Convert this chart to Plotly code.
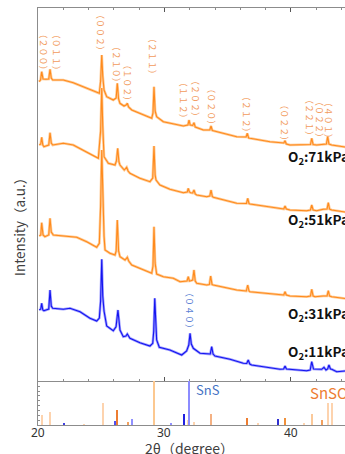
import plotly.graph_objects as go

# ---------------- data ----------------
# O2 : 11 kPa (blue), stacked intensity (a.u.)
tt_11 = [20.10, 20.22, 20.29, 20.38, 20.47, 20.85, 20.95, 21.05, 21.16, 22.00, 22.53, 23.32, 24.11, 24.64,
         24.85, 24.95, 25.04, 25.12, 25.22, 25.43, 25.95, 26.17, 26.32, 26.42, 26.48, 26.74, 26.95, 27.06,
         27.17, 27.27, 28.06, 28.85, 29.07, 29.15, 29.23, 29.31, 29.38, 29.59, 30.43, 31.36, 31.75, 31.92,
         32.02, 32.12, 32.28, 32.81, 33.46, 33.62, 33.73, 33.84, 33.99, 35.18, 36.23, 36.50, 36.62, 36.74,
         36.89, 38.08, 39.13, 39.42, 39.53, 39.64, 39.92, 41.24, 41.52, 41.64, 41.78, 42.03, 42.43, 42.61,
         42.77, 42.90, 43.00, 43.12, 43.22, 43.61, 44.13, 44.30]
int_11 = [71, 72, 77.7, 71, 70.3, 72, 91, 75, 72.7, 71.7, 72.7, 69.3, 62.7, 60,
          63, 80, 121.7, 85, 70, 55, 50.3, 54.3, 71, 55, 51, 44.3, 45, 47,
          44, 42.7, 38.3, 35, 37.7, 50, 82.7, 50, 41, 33.7, 31, 26, 30, 36,
          47.7, 37, 32.7, 27.7, 27, 27, 34.3, 27, 25, 21.7, 17.7, 17.5, 21, 17,
          16, 13.7, 11.7, 12, 15, 12, 11.7, 10.3, 11, 19.3, 12, 11.7, 11.7, 13.7,
          11, 12, 16, 12, 11.7, 9.3, 10.3, 10]

# O2 : 31 kPa
tt_31 = [20.10, 20.22, 20.29, 20.40, 20.55, 20.85, 20.95, 21.05, 21.21, 22.27, 23.06, 23.85, 24.64, 24.85,
         24.95, 25.04, 25.12, 25.22, 25.30, 25.69, 26.09, 26.18, 26.27, 26.37, 26.48, 26.88, 27.06, 27.17,
         27.41, 28.32, 28.99, 29.09, 29.17, 29.26, 29.38, 29.91, 30.70, 31.23, 31.78, 31.88, 31.97, 32.07,
         32.23, 32.33, 32.43, 32.55, 33.34, 33.55, 33.65, 33.76, 33.86, 35.71, 36.47, 36.58, 36.68, 36.76,
         38.34, 39.43, 39.53, 39.63, 39.92, 41.24, 41.54, 41.64, 41.75, 41.90, 42.55, 42.85, 42.95, 43.05,
         43.22, 44.13, 44.30]
int_31 = [145, 146, 158.3, 146, 144.3, 146, 162.7, 149, 146, 145, 143.7, 139.3, 133.7, 137.7,
          175, 231, 190, 145, 131, 127.7, 126, 130, 161, 130, 124.3, 121, 123.7, 120,
          116, 111, 107.7, 115, 154.3, 118, 107, 104.3, 102.7, 99.3, 100, 104.3, 100, 100.3,
          101, 111, 100, 97.7, 96, 96.5, 105, 96.5, 96, 91, 90, 96, 90, 89.3,
          87, 86, 89.3, 86, 85, 84.3, 85, 91.7, 85, 84.3, 85, 85, 90.3, 85,
          84.3, 82.7, 82.5]

# O2 : 51 kPa
tt_51 = [20.10, 20.22, 20.29, 20.38, 20.47, 20.85, 20.95, 21.05, 21.16, 22.00, 22.79, 23.58, 24.37, 24.77,
         24.95, 25.04, 25.12, 25.22, 25.56, 26.09, 26.20, 26.30, 26.40, 26.48, 26.82, 27.01, 27.12, 27.27,
         28.06, 28.85, 29.07, 29.17, 29.26, 29.33, 29.64, 30.43, 31.49, 31.80, 31.88, 31.97, 32.07, 32.23,
         32.33, 32.43, 32.55, 33.34, 33.58, 33.68, 33.78, 33.86, 35.71, 36.48, 36.58, 36.68, 36.76, 38.34,
         39.43, 39.53, 39.63, 39.92, 41.24, 41.54, 41.64, 41.75, 42.03, 42.55, 42.85, 42.95, 43.05, 43.22,
         44.13, 44.30]
int_51 = [236, 237, 243.7, 236, 234.3, 236, 248.3, 238, 236, 237.7, 236, 231, 226, 222.7,
          250, 293, 255, 224.3, 217.7, 216, 220, 232.7, 219, 216, 211, 213.7, 210, 207.7,
          202.7, 199.3, 203, 235, 206, 201, 196, 191.7, 188.3, 189, 192.7, 189, 188.3, 188,
          191, 187, 186, 184.3, 185, 191, 184.5, 183.7, 177.7, 177.5, 182.7, 177.5, 177, 173.7,
          172, 175, 172, 171, 170.3, 171, 176, 171, 170.3, 171.7, 172, 178.3, 172, 171,
          169.3, 169]

# O2 : 71 kPa
tt_71 = [20.08, 20.20, 20.29, 20.40, 20.63, 20.85, 20.95, 21.05, 21.16, 22.00, 22.79, 23.58, 24.37, 24.85,
         24.95, 25.04, 25.12, 25.22, 25.43, 25.95, 26.18, 26.27, 26.37, 26.48, 26.80, 26.96, 27.06, 27.16,
         27.41, 28.32, 28.99, 29.09, 29.17, 29.26, 29.38, 29.91, 30.70, 31.49, 31.85, 31.94, 32.03, 32.23,
         32.33, 32.43, 33.07, 33.58, 33.68, 33.78, 33.86, 35.71, 36.45, 36.55, 36.65, 36.76, 38.34, 39.43,
         39.53, 39.63, 39.92, 41.24, 41.54, 41.64, 41.75, 42.03, 42.55, 42.80, 42.90, 43.00, 43.22, 44.13,
         44.30]
int_71 = [299.3, 301, 309.3, 302, 301.7, 302, 311.7, 303, 301, 301, 298.3, 294.3, 290.3, 287.7,
          300, 326, 305, 291, 284.3, 281, 283, 297.7, 282, 277.7, 275, 276, 277.7, 274,
          271, 266, 262.7, 268, 294.3, 270, 264.3, 259.3, 257, 255, 256, 261, 256, 255.5,
          258.3, 254, 251, 251, 255, 250.5, 250.3, 244.3, 244, 247.7, 243, 242.7, 239.3, 238,
          240.3, 237, 236, 236, 236.5, 242.7, 236.5, 236, 237, 237, 244.3, 237, 236, 234.3,
          234]

# reference patterns (relative intensity, %)
snso4_pos = [20.29, 20.95, 23.60, 25.11, 26.27, 27.14, 29.19, 31.88, 32.33, 33.68, 36.55, 37.40,
             39.55, 41.00, 41.64, 42.43, 42.95, 43.27]
snso4_int = [22.7, 28.9, 1.6, 49.3, 34.1, 7.5, 100, 11.4, 7.5, 24.3, 16.6, 2.3,
             16.6, 2.3, 24.3, 11.4, 49.3, 49.3]
sns_pos = [22.03, 26.06, 27.46, 30.54, 31.54, 31.96, 39.00]
sns_int = [3.9, 9.1, 13.6, 2.3, 24.3, 100, 13.6]

# x tick labels
x_tick_vals = [20, 30, 40]
x_tick_text = ["20", "30", "40"]

# Miller index labels
hkl_text = ["（２００）", "（０１１）", "（００２）", "（２１０）", "（１０２）", "（２１１）", "（１１２）",
            "（２０２）", "（０２０）", "（２１２）", "（０２２）", "（２２１）", "（０２２）", "（４０１）"]
hkl_x = [20.47, 21.48, 24.98, 26.27, 27.06, 29.11, 31.57, 32.49, 33.73, 36.55, 39.47, 41.50, 42.29, 43.03]
hkl_y = [328.5, 328.5, 348, 317, 298.5, 325, 281, 282, 274, 267, 258.5, 263, 261, 261]
sns_hkl_text = "（０４０）"
sns_hkl_x = 32.02
sns_hkl_y = 71

sample_labels = ["O<sub>2</sub>:71kPa", "O<sub>2</sub>:51kPa", "O<sub>2</sub>:31kPa", "O<sub>2</sub>:11kPa"]
sample_label_y = [224, 161, 67, 29]
sample_label_x = 39.57

# ---------------- styles ----------------
ORANGE = "#FF8A1C"
ORANGE_LIGHT = "#FFCB96"
BLUE = "#1414F0"
BLUE_LIGHT = "#A0A0FF"
AXIS = "#8C8C8C"
snso4_colors = ["#FDD3AE", "#FDD3AE", "#FDD3AE", "#FDD3AE", "#ED7D31", "#F2A05E", "#FCC890", "#FDD3AE",
                "#FDD3AE", "#F4B183", "#ED7D31", "#FDD3AE", "#F0903A", "#FDD3AE", "#FBC99A", "#F2A05E",
                "#FDD3AE", "#FDD3AE"]
sns_colors = ["#4040E0", "#5050F0", "#9090FF", "#9090FF", "#2020E0", "#8C8CFF", "#3030D0"]

XR = [20, 44.27]
SPLIT = 0.1055
PLOT_H = 417  # plot area height in px (454 - 8 - 29)

fig = go.Figure()

series = [(tt_71, int_71, ORANGE, ORANGE_LIGHT), (tt_51, int_51, ORANGE, ORANGE_LIGHT),
          (tt_31, int_31, ORANGE, ORANGE_LIGHT), (tt_11, int_11, BLUE, BLUE_LIGHT)]
for tx, iy, c, cl in series:
    fig.add_trace(go.Scatter(x=tx, y=iy, mode="lines", line=dict(color=cl, width=2.6),
                             hoverinfo="skip", showlegend=False, xaxis="x", yaxis="y"))
    fig.add_trace(go.Scatter(x=tx, y=iy, mode="lines", line=dict(color=c, width=1.1),
                             showlegend=False, xaxis="x", yaxis="y"))

fig.add_trace(go.Bar(x=snso4_pos, y=snso4_int, width=0.085, marker=dict(color=snso4_colors, line=dict(width=0)),
                     showlegend=False, xaxis="x2", yaxis="y2"))
fig.add_trace(go.Bar(x=sns_pos, y=sns_int, width=0.085, marker=dict(color=sns_colors, line=dict(width=0)),
                     showlegend=False, xaxis="x2", yaxis="y2"))

tickcommon = dict(range=XR, showgrid=False, zeroline=False, dtick=10, tick0=0)

fig.update_layout(
    width=345, height=454,
    margin=dict(l=38, r=0, t=8, b=29, autoexpand=False),
    paper_bgcolor="white", plot_bgcolor="white",
    barmode="overlay", bargap=0,
    font=dict(family="Noto Sans CJK JP, Noto Sans", color="#333333"),
    xaxis=dict(**tickcommon, domain=[0, 1], anchor="y", showline=True, linecolor=AXIS, linewidth=1,
               mirror="allticks", ticks="inside", ticklen=4, tickcolor="#555555", showticklabels=False,
               minor=dict(dtick=2, ticks="inside", ticklen=2, tickcolor=AXIS)),
    yaxis=dict(domain=[SPLIT, 1], range=[0, 373], showline=True, linecolor=AXIS, linewidth=1,
               showgrid=False, zeroline=False, ticks="", showticklabels=False),
    xaxis2=dict(**tickcommon, domain=[0, 1], anchor="y2", showline=True, linecolor=AXIS, linewidth=1,
                ticks="", showticklabels=False),
    xaxis3=dict(**tickcommon, domain=[0, 1], anchor="y2", overlaying="x2", side="top", showline=False,
                ticks="inside", ticklen=4, tickcolor="#555555", showticklabels=False,
                minor=dict(dtick=2, ticks="inside", ticklen=2, tickcolor=AXIS)),
    yaxis2=dict(domain=[0, SPLIT], range=[0, 100], showline=True, linecolor=AXIS, linewidth=1,
                showgrid=False, zeroline=False, ticks="inside", ticklen=2, tickcolor=AXIS,
                dtick=11, tick0=0, showticklabels=False),
)

anns = []
for t, x, y in zip(hkl_text, hkl_x, hkl_y):
    anns.append(dict(x=x, y=y, xref="x", yref="y", text=t, showarrow=False, textangle=90,
                     xanchor="center", yanchor="middle",
                     font=dict(size=9, color="#F29B5C", family="Noto Sans CJK JP")))
anns.append(dict(x=sns_hkl_x, y=sns_hkl_y, xref="x", yref="y", text=sns_hkl_text, showarrow=False,
                 textangle=90, xanchor="center", yanchor="middle",
                 font=dict(size=9, color="#5B7FD4", family="Noto Sans CJK JP")))
for t, y in zip(sample_labels, sample_label_y):
    anns.append(dict(x=sample_label_x, y=y, xref="x", yref="y", text="<b>" + t + "</b>", showarrow=False,
                     xanchor="left", yanchor="middle",
                     font=dict(size=13.5, color="#111111", family="Noto Sans CJK JP")))
anns.append(dict(x=32.36, y=81.8, xref="x2", yref="y2", text="SnS", showarrow=False, xanchor="left",
                 yanchor="middle", font=dict(size=13, color="#4472C4", family="Noto Sans CJK JP")))
anns.append(dict(x=41.32, y=70.5, xref="x2", yref="y2", text="SnSO<sub>4</sub>", showarrow=False,
                 xanchor="left", yanchor="middle", font=dict(size=15, color="#ED7D31", family="Noto Sans CJK JP")))
# x tick labels (bottom axis)
for v, t in zip(x_tick_vals, x_tick_text):
    anns.append(dict(x=v, y=-7.5 / PLOT_H, xref="x2", yref="paper", text=t, showarrow=False,
                     xanchor="center", yanchor="middle", borderpad=0,
                     font=dict(size=12, color="#333333", family="Noto Sans")))
# axis titles
anns.append(dict(x=-0.062, y=(425 - 223) / PLOT_H, xref="paper", yref="paper", text="Intensity（a.u.）",
                 textangle=-90, showarrow=False, xanchor="center", yanchor="middle",
                 font=dict(size=13.5, color="#404040", family="Noto Sans CJK JP")))
anns.append(dict(x=(189 - 38) / 307, y=(425 - 448) / PLOT_H, xref="paper", yref="paper", text="2θ（degree）",
                 showarrow=False, xanchor="center", yanchor="middle", borderpad=0,
                 font=dict(size=14, color="#404040", family="Noto Sans CJK JP")))
fig.update_layout(annotations=anns)

fig.write_html("out.html", config={"displayModeBar": False},
               post_script="document.body.style.margin='0';document.body.style.overflow='hidden';")
